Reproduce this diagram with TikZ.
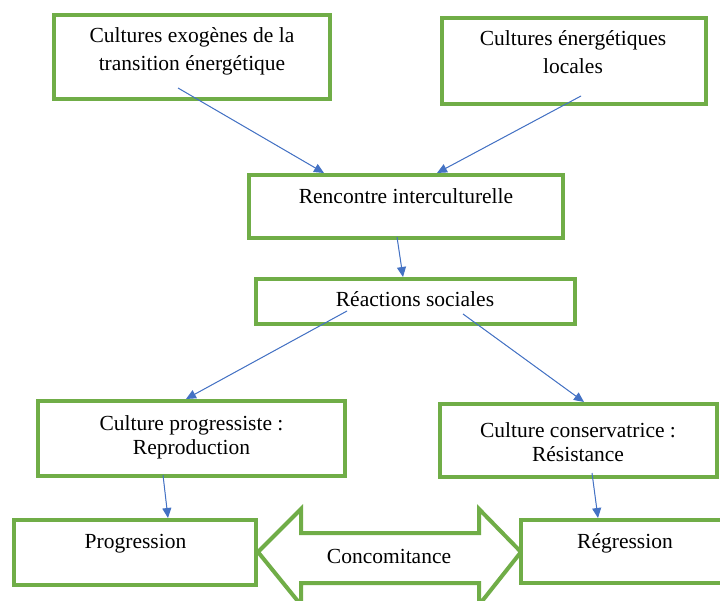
\documentclass[tikz,border=0pt]{standalone}
\usepackage{fontspec}
\setmainfont{Liberation Serif}
\usetikzlibrary{arrows.meta}
\definecolor{boxgreen}{HTML}{70AD47}
\definecolor{arrblue}{HTML}{4472C4}
\tikzset{
  box/.style={draw=boxgreen, line width=4pt, fill=white, rectangle, inner sep=0pt},
  txt/.style={anchor=base, inner sep=0pt, font=\fontsize{21.5}{28}\selectfont},
  txtb/.style={anchor=base, inner sep=0pt, font=\fontsize{21.5}{24.5}\selectfont},
  arr/.style={draw=arrblue, line width=1pt, -{Triangle[length=10pt,width=9pt]}, fill=arrblue},
  dbl/.style={draw=boxgreen, line width=4pt, fill=white, line join=miter}
}
\begin{document}
\begin{tikzpicture}[x=1pt,y=-1pt]
\clip (0,0) rectangle (720,601);
\fill[white] (0,0) rectangle (720,601);

% double arrow
\draw[dbl] (258,552) -- (301,509) -- (301,533) -- (479,533) -- (479,509) -- (521,552)
  -- (479,605) -- (479,583) -- (301,583) -- (301,605) -- cycle;
\node[txt] (conc) at (389,563) {Concomitance};

% boxes
\node[box, minimum width=276pt, minimum height=84pt] (b1) at (192,57) {};
\node[box, minimum width=264pt, minimum height=86pt] (b2) at (574,61) {};
\node[box, minimum width=314pt, minimum height=63pt] (b3) at (406,206.5) {};
\node[box, minimum width=319pt, minimum height=45pt] (b4) at (415.5,301.5) {};
\node[box, minimum width=307pt, minimum height=75pt] (b5) at (191.5,438.5) {};
\node[box, minimum width=242pt, minimum height=65pt] (b6) at (135,552.5) {};
\node[box, minimum width=277pt, minimum height=73pt] (b7) at (578.5,440.5) {};
\node[box, minimum width=237pt, minimum height=63pt] (b8) at (639.5,551.5) {};

% texts
\node[txt] (t1) at (192,43) {\begin{tabular}[t]{@{}c@{}}Cultures exogènes de la\\transition énergétique\end{tabular}};
\node[txt] (t2) at (573,46) {\begin{tabular}[t]{@{}c@{}}Cultures énergétiques\\locales\end{tabular}};
\node[txt] (t3) at (406,204) {Rencontre interculturelle};
\node[txt] (t4) at (415,307) {Réactions sociales};
\node[txtb] (t5) at (191.5,430) {\begin{tabular}[t]{@{}c@{}}Culture progressiste :\\Reproduction\end{tabular}};
\node[txtb] (t7) at (578,437) {\begin{tabular}[t]{@{}c@{}}Culture conservatrice :\\Résistance\end{tabular}};
\node[txt] (t6) at (135.5,548) {Progression};
\node[txt] (t8) at (625,548) {Régression};

% connector end points
\coordinate (s1) at (178,88);  \coordinate (e1) at (324,173);
\coordinate (s2) at (581,96);  \coordinate (e2) at (437,173);
\coordinate (s3) at (397,237); \coordinate (e3) at (403,277);
\coordinate (s4) at (347,311); \coordinate (e4) at (186,399);
\coordinate (s5) at (463,314); \coordinate (e5) at (584,402);
\coordinate (s6) at (163,475); \coordinate (e6) at (168,518);
\coordinate (s7) at (592,473); \coordinate (e7) at (598,518);

\draw[arr] (s1) -- (e1);
\draw[arr] (s2) -- (e2);
\draw[arr] (s3) -- (e3);
\draw[arr] (s4) -- (e4);
\draw[arr] (s5) -- (e5);
\draw[arr] (s6) -- (e6);
\draw[arr] (s7) -- (e7);
\end{tikzpicture}
\end{document}
